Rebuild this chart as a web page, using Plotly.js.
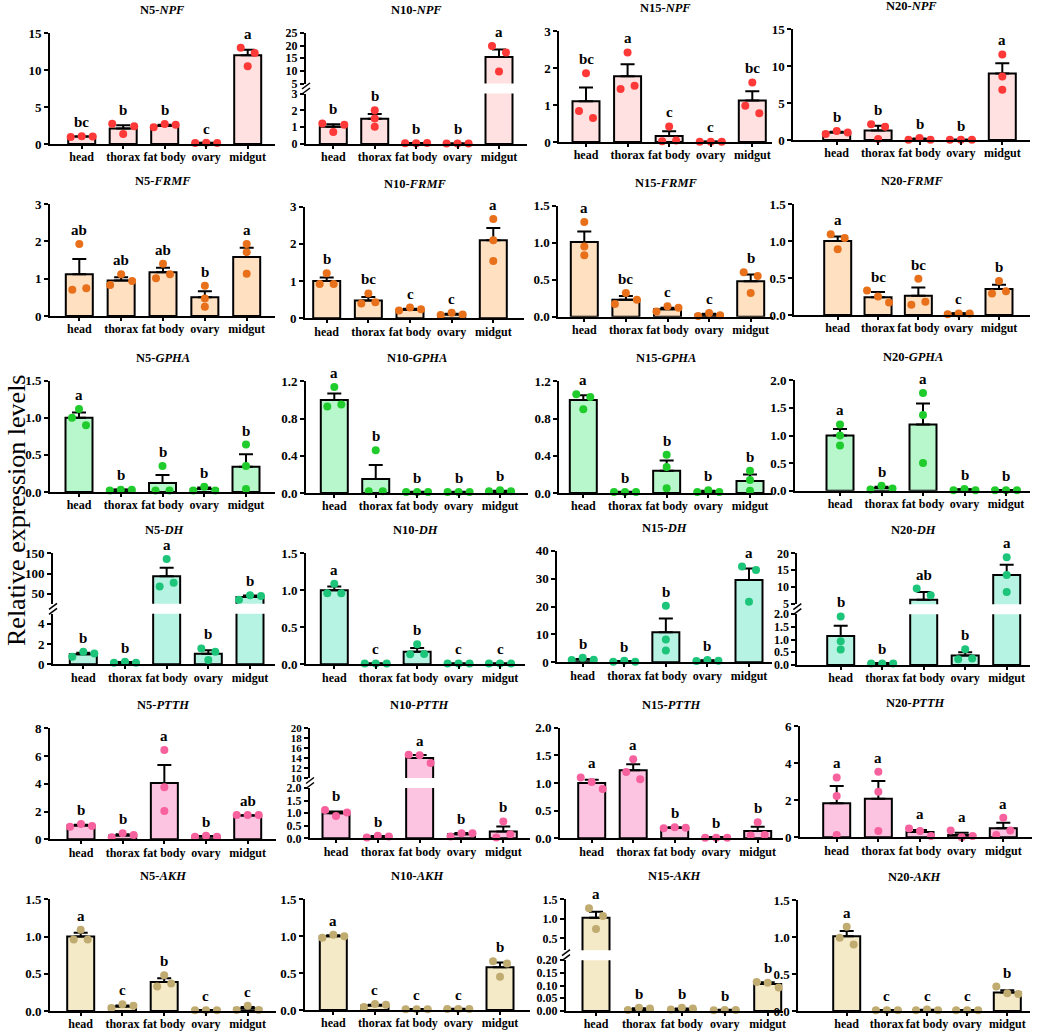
<!DOCTYPE html>
<html><head><meta charset="utf-8">
<script src="https://cdn.plot.ly/plotly-3.0.1.min.js"></script>
<style>html,body{margin:0;padding:0;background:#fff;}#chart{width:1045px;height:1033px;}</style>
</head><body><div id="chart"></div>
<script>
// ---------------- DATA ----------------
const genes = ['NPF','FRMF','GPHA','DH','PTTH','AKH'];
const stages = ['N5','N10','N15','N20'];
const tissues = ['head','thorax','fat body','ovary','midgut'];
const yTitle = 'Relative expression levels';

// NPF (rows: N5, N10, N15, N20; columns: tissues)
const NPF_mean = [[1.0,2.1,2.45,0.15,12.0],[1.03,1.5,0.05,0.03,15.5],[1.1,1.78,0.16,0.01,1.12],[1.0,1.3,0.12,0.03,9.0]];
const NPF_sem  = [[0.03,0.42,0.14,0.03,0.75],[0.15,0.28,0.01,0.005,3.0],[0.37,0.32,0.13,0.005,0.25],[0.12,0.63,0.08,0.005,1.4]];
const NPF_pts  = [
 [[0.95,1.05,1.0],[2.75,1.35,2.4],[2.25,2.7,2.6],[0.12,0.18,0.15],[13.0,12.3,10.5]],
 [[1.22,0.72,1.15],[2.0,1.52,1.02],[0.04,0.05,0.06],[0.03,0.03,0.03],[19.9,17.3,9.8]],
 [[1.86,0.84,0.65],[2.42,1.43,1.52],[0.42,0.02,0.04],[0.01,0.01,0.01],[1.61,0.98,0.78]],
 [[0.81,1.22,1.0],[2.12,1.8,0.13],[0.03,0.28,0.04],[0.03,0.03,0.03],[11.6,8.6,6.8]]];
const NPF_letters = [['bc','b','b','c','a'],['b','b','b','b','a'],['bc','a','c','c','bc'],['b','b','b','b','a']];

// FRMF
const FRMF_mean = [[1.12,0.95,1.17,0.5,1.58],[1.0,0.48,0.23,0.1,2.1],[1.01,0.23,0.1,0.03,0.48],[1.0,0.24,0.26,0.02,0.35]];
const FRMF_sem  = [[0.41,0.09,0.12,0.16,0.25],[0.1,0.09,0.03,0.02,0.33],[0.14,0.05,0.02,0.01,0.09],[0.06,0.07,0.11,0.005,0.06]];
const FRMF_pts  = [
 [[1.93,0.7,0.74],[0.83,1.12,0.94],[1.01,1.4,1.12],[0.81,0.47,0.25],[1.93,1.71,1.13]],
 [[0.92,1.21,0.92],[0.4,0.67,0.43],[0.21,0.29,0.24],[0.09,0.15,0.1],[2.67,2.1,1.54]],
 [[1.28,0.95,0.83],[0.17,0.32,0.23],[0.07,0.14,0.12],[0.01,0.05,0.02],[0.6,0.55,0.32]],
 [[1.09,1.04,0.89],[0.33,0.25,0.17],[0.49,0.14,0.18],[0.01,0.02,0.02],[0.46,0.29,0.32]]];
const FRMF_letters = [['ab','ab','ab','b','a'],['b','bc','c','c','a'],['a','bc','c','c','b'],['a','bc','bc','c','b']];

// GPHA
const GPHA_mean = [[1.0,0.03,0.12,0.04,0.34],[1.0,0.15,0.01,0.01,0.02],[1.0,0.01,0.24,0.02,0.13],[1.0,0.05,1.2,0.02,0.01]];
const GPHA_sem  = [[0.07,0.005,0.11,0.02,0.17],[0.07,0.15,0.003,0.003,0.005],[0.05,0.003,0.11,0.005,0.07],[0.12,0.02,0.38,0.005,0.003]];
const GPHA_pts  = [
 [[1.12,1.0,0.9],[0.02,0.03,0.03],[0.35,0.02,0.02],[0.02,0.07,0.02],[0.64,0.35,0.04]],
 [[1.14,0.93,0.95],[0.46,0.02,0.02],[0.01,0.01,0.01],[0.01,0.01,0.01],[0.02,0.03,0.02]],
 [[1.06,1.03,0.9],[0.01,0.01,0.01],[0.41,0.28,0.05],[0.01,0.03,0.01],[0.24,0.14,0.025]],
 [[1.2,1.0,0.82],[0.02,0.09,0.04],[1.77,1.37,0.5],[0.01,0.03,0.01],[0.01,0.01,0.01]]];
const GPHA_letters = [['a','b','b','b','b'],['a','b','b','b','b'],['a','b','b','b','b'],['a','b','a','b','b']];

// DH
const DH_mean = [[1.0,0.2,93,1.05,42],[1.0,0.01,0.17,0.01,0.01],[1.0,0.35,10.8,0.6,29.5],[1.14,0.07,6.3,0.37,13.6]];
const DH_sem  = [[0.14,0.03,21.5,0.34,3.5],[0.05,0.002,0.05,0.002,0.002],[0.2,0.1,4.9,0.1,4.1],[0.4,0.005,2.3,0.13,3.0]];
const DH_pts  = [
 [[0.75,1.24,1.08],[0.16,0.26,0.16],[136,68,77],[1.57,1.24,0.42],[35,46,44]],
 [[0.96,1.09,0.96],[0.01,0.01,0.01],[0.135,0.27,0.14],[0.01,0.01,0.01],[0.01,0.01,0.01]],
 [[0.8,1.6,0.9],[0.24,0.6,0.24],[20.3,8.2,4.2],[0.48,0.84,0.6],[34.3,33.1,21.7]],
 [[1.91,0.93,0.61],[0.06,0.06,0.06],[9.6,7.6,2.5],[0.62,0.23,0.26],[18.8,13.6,8.6]]];
const DH_letters = [['b','b','a','b','b'],['a','c','b','c','c'],['b','b','b','b','a'],['b','b','ab','b','a']];

// PTTH
const PTTH_mean = [[1.0,0.27,4.05,0.21,1.72],[1.0,0.07,14.0,0.16,0.27],[1.0,1.23,0.19,0.02,0.13],[1.84,2.08,0.28,0.12,0.49]];
const PTTH_sem  = [[0.05,0.09,1.3,0.03,0.02],[0.07,0.02,0.55,0.05,0.2],[0.06,0.11,0.01,0.003,0.08],[0.93,0.96,0.12,0.12,0.3]];
const PTTH_pts  = [
 [[0.91,1.1,0.96],[0.14,0.43,0.31],[6.44,3.75,2.04],[0.19,0.26,0.19],[1.75,1.75,1.75]],
 [[1.13,0.89,1.03],[0.03,0.1,0.07],[14.6,14.5,12.96],[0.07,0.2,0.2],[0.67,0.03,0.16]],
 [[1.1,1.02,0.89],[1.43,1.2,1.07],[0.18,0.2,0.19],[0.01,0.01,0.01],[0.29,0.05,0.06]],
 [[3.23,2.23,0.13],[3.54,2.46,0.34],[0.48,0.34,0.07],[0.36,0.0,0.07],[1.06,0.13,0.36]]];
const PTTH_letters = [['b','b','a','b','ab'],['b','b','a','b','b'],['a','a','b','b','b'],['a','a','a','a','a']];

// AKH
const AKH_mean = [[1.0,0.06,0.39,0.01,0.035],[1.0,0.06,0.01,0.015,0.58],[1.03,0.008,0.008,0.004,0.106],[1.01,0.01,0.015,0.01,0.25]];
const AKH_sem  = [[0.05,0.015,0.05,0.003,0.018],[0.012,0.012,0.003,0.003,0.065],[0.15,0.003,0.002,0.0005,0.007],[0.07,0.002,0.003,0.002,0.03]];
const AKH_pts  = [
 [[1.09,0.96,0.96],[0.04,0.09,0.07],[0.48,0.33,0.37],[0.01,0.01,0.01],[0.015,0.07,0.015]],
 [[0.98,1.02,1.0],[0.04,0.08,0.07],[0.01,0.01,0.01],[0.015,0.015,0.015],[0.66,0.63,0.45]],
 [[1.27,1.07,0.74],[0.004,0.013,0.01],[0.006,0.013,0.01],[0.003,0.004,0.004],[0.114,0.111,0.092]],
 [[1.14,0.99,0.9],[0.01,0.01,0.01],[0.01,0.02,0.01],[0.01,0.01,0.01],[0.33,0.24,0.23]]];
const AKH_letters = [['a','c','b','c','c'],['a','c','c','c','b'],['a','b','b','b','b'],['a','c','c','c','b']];

// ---------------- STYLE / LAYOUT CONFIG ----------------
const W = 1045, H = 1033;
const FONT = 'Liberation Serif, Times New Roman, serif';
const SERIES = {
  NPF:  {mean:NPF_mean,  sem:NPF_sem,  pts:NPF_pts,  letters:NPF_letters,  fill:'#FFE1E1', dot:'#FF3838'},
  FRMF: {mean:FRMF_mean, sem:FRMF_sem, pts:FRMF_pts, letters:FRMF_letters, fill:'#FFE1C2', dot:'#E8701A'},
  GPHA: {mean:GPHA_mean, sem:GPHA_sem, pts:GPHA_pts, letters:GPHA_letters, fill:'#B7F7CB', dot:'#1FCC2C'},
  DH:   {mean:DH_mean,   sem:DH_sem,   pts:DH_pts,   letters:DH_letters,   fill:'#B6F3E2', dot:'#1DC57A'},
  PTTH: {mean:PTTH_mean, sem:PTTH_sem, pts:PTTH_pts, letters:PTTH_letters, fill:'#FCC4E1', dot:'#F7619E'},
  AKH:  {mean:AKH_mean,  sem:AKH_sem,  pts:AKH_pts,  letters:AKH_letters,  fill:'#F5EAC8', dot:'#C0AB70'}
};
// per panel pixel geometry: [axisLeft, headCenter, midgutCenter, axisRight, top, baseline]
const GEO = [
 [50,81.7,247.7,275,33,144],[306,333.3,499,527,33,144],[559.3,586,752.3,771.7,31,142],[793.3,836.7,1002.3,1030,29.3,140],
 [50,79.3,246.7,275,204,316],[305,326.7,493.3,524,206.7,318.3],[558.3,584.3,750.7,773,205.7,316.7],[794.3,837.7,999,1030,204,315],
 [50,79,246,275,380.7,492],[306,334.3,500,528,381.3,493],[559.3,583.3,750,772.3,381.3,493],[795,840,1006,1030,380.3,490.7],
 [53,83.3,250,275,553.3,664.3],[306,334.3,500,525,553.3,664.3],[557.3,582.7,749,772,550.7,662.3],[797.3,840.7,1006.7,1030,553.3,665],
 [50,81,247.7,276,728.3,839.3],[310,336,503.3,530,727.7,838.3],[560,591.7,757.7,783.3,727.7,838.3],[800,836.7,1003.3,1031.7,726,837.3],
 [50,80.7,247.7,276,899.3,1011],[305,333.3,500,530,899.3,1010],[566,596,767.7,783.3,899.3,1011],[798.3,846.7,1007.3,1030,900,1011]
];
const f1 = '.1f';
const YSPEC = [
 {r:[0,15],d:5}, {lo:{r:[0,3],d:1,fs:12}, hi:{r:[5,25],d:5,fs:12}}, {r:[0,3],d:1}, {r:[0,15],d:5},
 {r:[0,3],d:1}, {r:[0,3],d:1}, {r:[0,1.5],d:0.5,f:f1}, {r:[0,1.5],d:0.5,f:f1},
 {r:[0,1.5],d:0.5,f:f1}, {r:[0,1.2],d:0.4,f:f1}, {r:[0,1.2],d:0.4,f:f1}, {r:[0,2],d:0.5,f:f1},
 {lo:{r:[0,5],d:2}, hi:{r:[25,150],d:50}}, {r:[0,1.5],d:0.5,f:f1}, {r:[0,40],d:10}, {lo:{r:[0,2],d:0.5,f:f1,fs:12}, hi:{r:[5,20],d:5,fs:12}},
 {r:[0,8],d:2}, {lo:{r:[0,2],d:0.5,f:f1,fs:12}, hi:{r:[10,20],d:2,fs:11}}, {r:[0,2],d:0.5,f:f1}, {r:[0,6],d:2},
 {r:[0,1.5],d:0.5,f:f1}, {r:[0,1.5],d:0.5,f:f1}, {lo:{r:[0,0.2],d:0.05,f:'.2f',fs:12}, hi:{r:[0.2,1.5],d:0.5,f:f1,fs:12}}, {r:[0,1.5],d:0.5,f:f1}
];
const GAP = 10, BARW = 27, THR = 8, DOT = 8;

const yTickFont = {family:FONT, size:13, color:'#000', weight:'bold'};
const xTickFont = {family:FONT, size:12, color:'#000', weight:'bold'};
const axisBase = {showline:true, linecolor:'#000', linewidth:2, ticks:'outside', ticklen:4, tickwidth:2,
  tickcolor:'#000', showgrid:false, zeroline:false, fixedrange:true, automargin:false};

const traces = [], annotations = [], shapes = [];
const layout = {width:W, height:H, margin:{l:0,r:0,t:0,b:0}, autosize:false, showlegend:false,
  paper_bgcolor:'#fff', plot_bgcolor:'rgba(0,0,0,0)', annotations, shapes};

function px2x(p){return p/W;}
function px2y(p){return 1-p/H;}

function offsets(pys, sp){
  const off = pys.map(()=>0);
  const idx = pys.map((p,i)=>i).filter(i=>pys[i]!==null).sort((a,b)=>pys[a]-pys[b]);
  const groups=[]; let cur=[];
  idx.forEach(i=>{ if(cur.length && Math.abs(pys[i]-pys[cur[cur.length-1]])>THR){groups.push(cur);cur=[];} cur.push(i); });
  if(cur.length) groups.push(cur);
  groups.forEach(g=>{
    const s = g.slice().sort((a,b)=>a-b);
    if(s.length===2){off[s[0]]=-7/sp; off[s[1]]=7/sp;}
    if(s.length===3){off[s[0]]=-11/sp; off[s[1]]=0; off[s[2]]=11/sp;}
  });
  return off;
}

let extraAxis = 24;
genes.forEach((g,r)=>{
  const S = SERIES[g];
  stages.forEach((st,c)=>{
    const k = r*4+c+1;
    const [left, head, mid, right, top, base] = GEO[k-1];
    const sp = (mid-head)/4;
    layout['xaxis'+k] = Object.assign({}, axisBase, {
      domain:[px2x(left), px2x(right)], range:[-(head-left)/sp, 4+(right-mid)/sp],
      anchor:'y'+k, tickmode:'array', tickvals:[0,1,2,3,4], ticktext:tissues,
      tickangle:0, tickfont:xTickFont, ticklen:3, ticklabelstandoff:-2});
    const spec = YSPEC[k-1];
    const segs = [];
    if(spec.lo){
      const segH = (base-top-GAP)/2;
      segs.push(Object.assign({ax:k, pxTop:base-segH, pxBot:base, kind:'lo'}, spec.lo));
      extraAxis++;
      segs.push(Object.assign({ax:extraAxis, pxTop:top, pxBot:top+segH, kind:'hi'}, spec.hi));
      const yc = (base-segH + top+segH)/2;
      [-2.5, 2.5].forEach(dy=>{
        shapes.push({type:'line', xref:'paper', yref:'paper',
          x0:px2x(left-4), y0:px2y(yc+dy+3), x1:px2x(left+4), y1:px2y(yc+dy-3),
          line:{color:'#000', width:1.5}});
      });
    } else {
      segs.push(Object.assign({ax:k, pxTop:top, pxBot:base, kind:'one'}, spec));
    }
    const inSeg = (sg,v)=> sg.kind==='one' || (sg.kind==='lo' ? v<=sg.r[1] : v>=sg.r[0]);
    const segOf = v => segs.find(sg=>inSeg(sg,v));
    const toPx = (sg,v)=> sg.pxBot - (v-sg.r[0])*(sg.pxBot-sg.pxTop)/(sg.r[1]-sg.r[0]);

    const mean = S.mean[c], sem = S.sem[c], pts = S.pts[c], lets = S.letters[c];
    segs.forEach(sg=>{
      layout['yaxis'+sg.ax] = Object.assign({}, axisBase, {
        domain:[px2y(sg.pxBot), px2y(sg.pxTop)], range:sg.r, tick0:0, dtick:sg.d,
        tickformat:sg.f||'', anchor:'x'+k,
        tickfont:Object.assign({}, yTickFont, sg.fs ? {size:sg.fs} : {})});
      traces.push({type:'bar', x:[0,1,2,3,4], y:mean, width:BARW/sp,
        xaxis:'x'+k, yaxis:'y'+sg.ax, hoverinfo:'skip',
        marker:{color:S.fill, line:{color:'#000', width:2}},
        error_y:{type:'data', symmetric:false,
          array: mean.map((m,i)=> inSeg(sg,m) ? sem[i] : NaN),
          arrayminus: mean.map(()=>0), color:'#000', thickness:2, width:7}});
    });
    const dx = {}, dy = {};
    segs.forEach(sg=>{dx[sg.ax]=[]; dy[sg.ax]=[];});
    pts.forEach((p,i)=>{
      const pys = p.map(v=>{ const sg = segOf(v); return sg ? toPx(sg,v) : null; });
      const off = offsets(pys, sp);
      p.forEach((v,j)=>{ const sg = segOf(v); if(sg){ dx[sg.ax].push(i+off[j]); dy[sg.ax].push(v);} });
      const topV = Math.max(Math.max(...p), mean[i]+sem[i]);
      const sgL = segOf(topV) || segs[segs.length-1];
      annotations.push({xref:'x'+k, yref:'y'+sgL.ax, x:i, y:topV, xanchor:'center', yanchor:'middle', yshift:14,
        showarrow:false, text:'<b>'+lets[i]+'</b>', font:{family:FONT, size:15, color:'#000'}});
    });
    segs.forEach(sg=>{
      traces.push({type:'scatter', mode:'markers', x:dx[sg.ax], y:dy[sg.ax], xaxis:'x'+k, yaxis:'y'+sg.ax,
        cliponaxis:false, hoverinfo:'skip', marker:{size:DOT, color:S.dot, line:{width:0}}});
    });
    annotations.push({xref:'paper', yref:'paper', x:px2x((left+right)/2), y:px2y(top-23),
      xanchor:'center', yanchor:'middle',
      showarrow:false, text:'<b>'+st+'-<i>'+g+'</i></b>', font:{family:FONT, size:12.5, color:'#000'}});
  });
});
annotations.push({xref:'paper', yref:'paper', x:px2x(16), y:px2y(511), xanchor:'center', yanchor:'middle',
  textangle:-90, showarrow:false, text:yTitle, font:{family:FONT, size:26, color:'#000'}});

Plotly.newPlot('chart', traces, layout, {displayModeBar:false, staticPlot:true});
</script></body></html>
